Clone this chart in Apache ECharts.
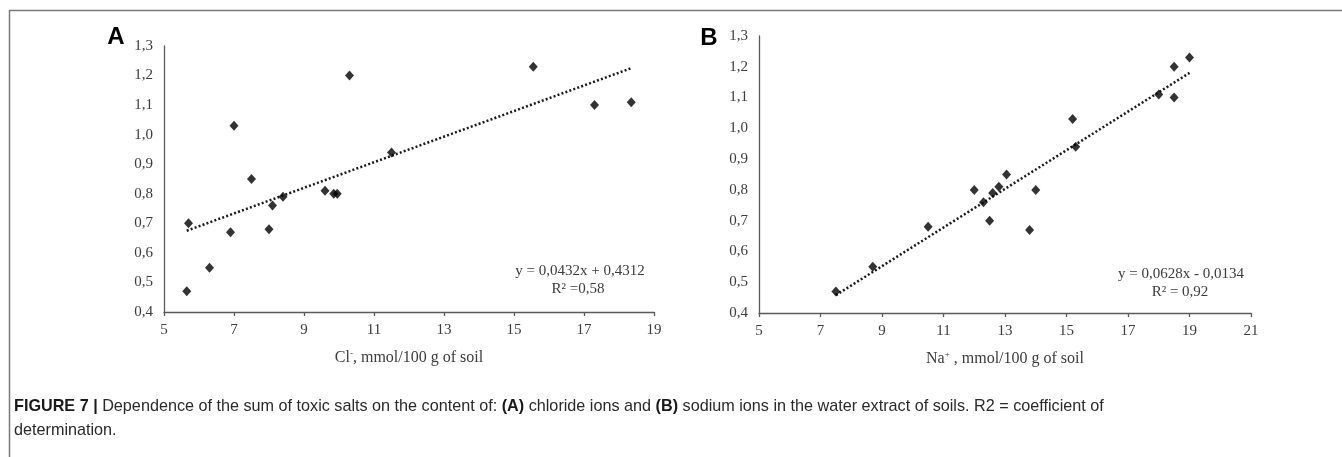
<!DOCTYPE html>
<html>
<head>
<meta charset="utf-8">
<script src="https://cdn.jsdelivr.net/npm/echarts@6/dist/echarts.min.js"></script>
<style>
html,body{margin:0;padding:0;background:#fff;}
#chart{width:1342px;height:457px;}
</style>
</head>
<body>
<div id="chart"></div>
<script>
// ---- Data ----
// Panel A: Cl- (mmol/100 g of soil) vs sum of toxic salts
const chlorideX = [5.65, 5.7, 6.3, 6.9, 7.0, 7.5, 8.0, 8.1, 8.4, 9.6, 9.85, 9.95, 10.3, 11.5, 15.55, 17.3, 18.35];
const chlorideY = [0.47, 0.70, 0.55, 0.67, 1.03, 0.85, 0.68, 0.76, 0.79, 0.81, 0.80, 0.80, 1.20, 0.94, 1.23, 1.10, 1.11];
const trendAX = [5.65, 18.35];
const trendAY = [0.675, 1.225];
// Panel B: Na+ (mmol/100 g of soil) vs sum of toxic salts
const sodiumX = [7.5, 8.7, 10.5, 12.0, 12.3, 12.5, 12.6, 12.8, 13.05, 13.8, 14.0, 15.2, 15.3, 18.0, 18.5, 18.5, 19.0];
const sodiumY = [0.47, 0.55, 0.68, 0.80, 0.76, 0.70, 0.79, 0.81, 0.85, 0.67, 0.80, 1.03, 0.94, 1.11, 1.20, 1.10, 1.23];
const trendBX = [7.5, 19.0];
const trendBY = [0.458, 1.18];
// Axis ranges / tick labels
const xTicksA = [5, 7, 9, 11, 13, 15, 17, 19];
const xTicksB = [5, 7, 9, 11, 13, 15, 17, 19, 21];
const yTicks = [0.4, 0.5, 0.6, 0.7, 0.8, 0.9, 1.0, 1.1, 1.2, 1.3];
// Texts
const eqA = ['y = 0,0432x + 0,4312', 'R² =0,58'];
const eqB = ['y = 0,0628x - 0,0134', 'R² = 0,92'];
const captionLine1 = ['FIGURE 7 |', ' Dependence of the sum of toxic salts on the content of: ', '(A)', ' chloride ions and ', '(B)', ' sodium ions in the water extract of soils. R2 = coefficient of'];
const captionLine2 = 'determination.';

const pairs = (xs, ys) => xs.map((x, i) => [x, ys[i]]);
const serif = '"Liberation Serif", "Times New Roman", serif';
const sans = '"Liberation Sans", Arial, Helvetica, sans-serif';
const axisCol = '#5a5a5a';
const labCol = '#3c3c3c';

function xAxis(grid, ticks, nameRich) {
  return {
    type: 'value', gridIndex: grid,
    min: ticks[0], max: ticks[ticks.length - 1], interval: ticks[1] - ticks[0],
    axisLine: {show: true, onZero: false, lineStyle: {color: axisCol, width: 1.3}},
    axisTick: {show: true, length: 4, lineStyle: {color: axisCol, width: 1.3}},
    splitLine: {show: false},
    axisLabel: {color: labCol, fontFamily: serif, fontSize: 15, margin: 11},
    name: nameRich, nameLocation: 'middle', nameGap: 37,
    nameTextStyle: {
      color: labCol, fontFamily: serif, fontSize: 16,
      rich: {
        b: {color: labCol, fontFamily: serif, fontSize: 16},
        sup: {color: labCol, fontFamily: serif, fontSize: 9, verticalAlign: 'top', padding: [0, 0, 8, 0]}
      }
    }
  };
}
function yAxis(grid) {
  return {
    type: 'value', gridIndex: grid,
    min: yTicks[0], max: yTicks[yTicks.length - 1], interval: 0.1,
    axisLine: {show: true, onZero: false, lineStyle: {color: axisCol, width: 1.3}},
    axisTick: {show: false},
    splitLine: {show: false},
    axisLabel: {color: labCol, fontFamily: serif, fontSize: 15, margin: 11,
      formatter: v => v.toFixed(1).replace('.', ',')}
  };
}

const chart = echarts.init(document.getElementById('chart'), null, {renderer: 'canvas'});
const eqStyle = {fill: labCol, font: '15px ' + serif, textAlign: 'center', textVerticalAlign: 'middle'};

chart.setOption({
  animation: false,
  backgroundColor: '#fff',
  grid: [
    {left: 164, top: 46, width: 490, height: 266},
    {left: 759, top: 36, width: 492, height: 277}
  ],
  xAxis: [
    xAxis(0, xTicksA, '{b|Cl}{sup|-}{b|, mmol/100 g of soil}'),
    xAxis(1, xTicksB, '{b|Na}{sup|+}{b| , mmol/100 g of soil}')
  ],
  yAxis: [yAxis(0), yAxis(1)],
  series: [
    {type: 'line', xAxisIndex: 0, yAxisIndex: 0, data: pairs(trendAX, trendAY), symbol: 'none',
      lineStyle: {color: '#1a1a1a', width: 2.5, type: [2, 2.2]}, z: 1},
    {type: 'scatter', xAxisIndex: 0, yAxisIndex: 0, data: pairs(chlorideX, chlorideY),
      symbol: 'diamond', symbolSize: [9, 10], itemStyle: {color: '#000'}, z: 2},
    {type: 'line', xAxisIndex: 1, yAxisIndex: 1, data: pairs(trendBX, trendBY), symbol: 'none',
      lineStyle: {color: '#1a1a1a', width: 2.5, type: [2, 2.2]}, z: 1},
    {type: 'scatter', xAxisIndex: 1, yAxisIndex: 1, data: pairs(sodiumX, sodiumY),
      symbol: 'diamond', symbolSize: [9, 10], itemStyle: {color: '#000'}, z: 2}
  ],
  graphic: [
    {type: 'line', shape: {x1: 9, y1: 10.5, x2: 1342, y2: 10.5}, style: {stroke: '#7a7a7a', lineWidth: 1.5}},
    {type: 'line', shape: {x1: 9.5, y1: 10, x2: 9.5, y2: 457}, style: {stroke: '#7a7a7a', lineWidth: 1.5}},
    {type: 'text', x: 116, y: 37, style: {text: 'A', fill: '#000', font: 'bold 24px ' + sans, textAlign: 'center', textVerticalAlign: 'middle'}},
    {type: 'text', x: 709, y: 38, style: {text: 'B', fill: '#000', font: 'bold 24px ' + sans, textAlign: 'center', textVerticalAlign: 'middle'}},
    {type: 'text', x: 580, y: 271, style: Object.assign({text: eqA[0]}, eqStyle)},
    {type: 'text', x: 578, y: 289, style: Object.assign({text: eqA[1]}, eqStyle)},
    {type: 'text', x: 1181, y: 274, style: Object.assign({text: eqB[0]}, eqStyle)},
    {type: 'text', x: 1180, y: 292, style: Object.assign({text: eqB[1]}, eqStyle)},
    {type: 'text', x: 14, y: 407, style: {
      text: '{b|' + captionLine1[0] + '}{n|' + captionLine1[1] + '}{b|' + captionLine1[2] + '}{n|' + captionLine1[3] + '}{b|' + captionLine1[4] + '}{n|' + captionLine1[5] + '}',
      textVerticalAlign: 'middle',
      rich: {
        b: {fontFamily: sans, fontSize: 16.2, fontWeight: 'bold', fill: '#1a1a1a'},
        n: {fontFamily: sans, fontSize: 16.2, fill: '#2a2a2a'}
      }
    }},
    {type: 'text', x: 14, y: 431, style: {text: captionLine2, fill: '#2a2a2a', font: '16.2px ' + sans, textVerticalAlign: 'middle'}}
  ]
});
</script>
</body>
</html>
